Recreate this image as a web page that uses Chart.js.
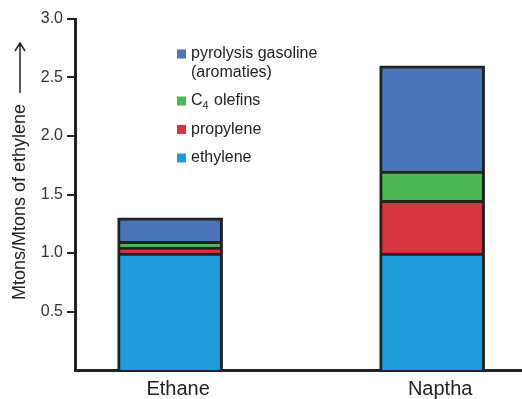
<!DOCTYPE html>
<html>
<head>
<meta charset="utf-8">
<script src="https://cdn.jsdelivr.net/npm/chart.js@4"></script>
<style>
  html, body { margin: 0; padding: 0; background: #fff; }
  #wrap { width: 522px; height: 399px; }
</style>
</head>
<body>
<div id="wrap"><canvas id="chart" width="522" height="399"></canvas></div>
<script>
  // feedstock data, Mtons per Mton of ethylene
  const categories = ['Ethane', 'Naptha'];
  const positions = [1, 2];
  const ethylene = [1.0, 1.0];
  const propylene = [0.05, 0.45];
  const c4Olefins = [0.05, 0.25];
  const pyGasoline = [0.2, 0.9];
  const yTicks = [0.5, 1.0, 1.5, 2.0, 2.5, 3.0];

  const seriesNames = [['ethylene'], ['propylene'], ['C_4 olefins'], ['pyrolysis gasoline', '(aromaties)']];
  const seriesColors = ['#1f9bd7', '#d63441', '#4cb752', '#4a74b9'];
  const seriesValues = [ethylene, propylene, c4Olefins, pyGasoline];

  const FONT = "'Liberation Sans', Arial, sans-serif";
  const INK = '#222';

  const datasets = seriesValues.map((vals, i) => ({
    label: seriesNames[i].join(' '),
    data: vals.map((v, j) => ({ x: positions[j], y: v })),
    backgroundColor: seriesColors[i],
    borderColor: INK,
    borderWidth: 3,
    borderSkipped: 'start',
    barThickness: 105
  }));

  // draw text with "_4" style subscripts
  function drawRich(ctx, text, x, y, size) {
    const parts = text.split(/(_\d)/);
    parts.forEach(p => {
      if (!p) return;
      if (p[0] === '_') {
        ctx.font = (size * 0.68) + 'px ' + FONT;
        ctx.fillText(p.slice(1), x, y + size * 0.3);
        x += ctx.measureText(p.slice(1)).width + 1;
      } else {
        ctx.font = size + 'px ' + FONT;
        ctx.fillText(p, x, y);
        x += ctx.measureText(p).width;
      }
    });
  }

  const legendPlugin = {
    id: 'insideLegend',
    afterDraw(chart) {
      const ctx = chart.ctx;
      ctx.save();
      ctx.textBaseline = 'middle';
      ctx.textAlign = 'left';
      let y = 54;
      for (let i = seriesNames.length - 1; i >= 0; i--) {
        ctx.fillStyle = seriesColors[i];
        ctx.fillRect(177, y - 4.5, 9, 9);
        ctx.fillStyle = INK;
        seriesNames[i].forEach((line, k) => {
          drawRich(ctx, line, 191, y + k * 18.5, 16);
        });
        y += (seriesNames[i].length - 1) * 18.5 + 28.5;
      }
      ctx.restore();
    }
  };

  const yTitlePlugin = {
    id: 'yTitle',
    afterDraw(chart) {
      const ctx = chart.ctx;
      ctx.save();
      ctx.translate(20, 202);
      ctx.rotate(-Math.PI / 2);
      ctx.font = '18px ' + FONT;
      ctx.fillStyle = INK;
      ctx.textAlign = 'center';
      ctx.textBaseline = 'middle';
      ctx.fillText('Mtons/Mtons of ethylene', 0, 0);
      ctx.restore();
      // arrow
      ctx.save();
      ctx.strokeStyle = INK;
      ctx.lineWidth = 1.5;
      ctx.beginPath();
      ctx.moveTo(20, 93);
      ctx.lineTo(20, 44);
      ctx.moveTo(15, 51);
      ctx.lineTo(20, 43);
      ctx.lineTo(25, 51);
      ctx.stroke();
      ctx.restore();
    }
  };

  new Chart(document.getElementById('chart'), {
    type: 'bar',
    data: { datasets },
    plugins: [legendPlugin, yTitlePlugin],
    options: {
      responsive: false,
      animation: false,
      layout: { padding: { top: 19, right: 0, bottom: 0, left: 0 } },
      plugins: { legend: { display: false }, tooltip: { enabled: false } },
      scales: {
        x: {
          type: 'linear',
          stacked: true,
          offset: false,
          min: 0.637,
          max: 2.343,
          afterBuildTicks: s => { s.ticks = positions.map(v => ({ value: v })); },
          afterFit: s => { s.height = 29; },
          grid: { offset: false, drawOnChartArea: false, drawTicks: false },
          border: { display: true, color: INK, width: 3 },
          ticks: {
            padding: 7,
            labelOffset: 8,
            color: INK,
            font: { family: FONT, size: 20 },
            callback: v => categories[positions.indexOf(v)]
          }
        },
        y: {
          stacked: true,
          min: 0,
          max: 3,
          afterBuildTicks: s => { s.ticks = yTicks.map(v => ({ value: v })); },
          afterFit: s => { s.width = 75; },
          grid: { drawOnChartArea: false, drawTicks: true, tickLength: 8, color: INK, lineWidth: 2 },
          border: { display: true, color: INK, width: 3 },
          ticks: {
            padding: 4,
            color: '#333',
            font: { family: FONT, size: 16 },
            callback: v => v.toFixed(1)
          }
        }
      }
    }
  });
</script>
</body>
</html>
